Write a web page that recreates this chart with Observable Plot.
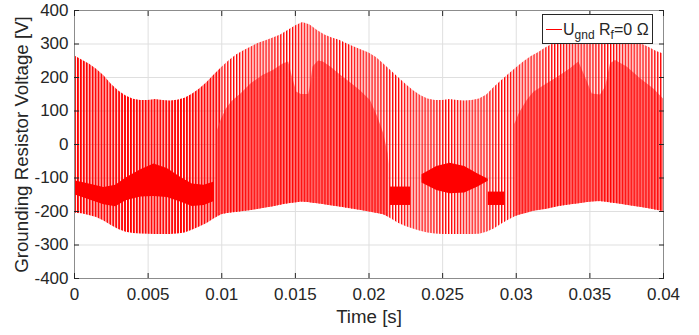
<!DOCTYPE html>
<html><head><meta charset="utf-8">
<script src="https://cdn.jsdelivr.net/npm/d3@7"></script>
<script src="https://cdn.jsdelivr.net/npm/@observablehq/plot@0.6"></script>
<style>
html,body{margin:0;padding:0;background:#fff;}
#chart{width:699px;height:335px;overflow:hidden;}
</style></head><body><div id="chart"></div>
<script>
// ---- tick values ----
const xTicks = [0, 0.005, 0.01, 0.015, 0.02, 0.025, 0.03, 0.035, 0.04];
const yTicks = [-400, -300, -200, -100, 0, 100, 200, 300, 400];

// ---- envelope of the switching waveform ----
const envT = [0,0.0005,0.001,0.0015,0.002,0.0025,0.003,0.0035,0.004,0.0045,
  0.005,0.0055,0.006,0.0065,0.007,0.0075,0.008,0.0085,0.009,0.0095,
  0.01,0.0105,0.011,0.0115,0.012,0.0125,0.013,0.0135,0.014,0.0145,
  0.015,0.0155,0.016,0.0165,0.017,0.0175,0.018,0.0185,0.019,0.0195,
  0.02,0.0205,0.021,0.0215,0.022,0.0225,0.023,0.0235,0.024,0.0245,
  0.025,0.0255,0.026,0.0265,0.027,0.0275,0.028,0.0285,0.029,0.0295,
  0.03,0.0305,0.031,0.0315,0.032,0.0325,0.033,0.0335,0.034,0.0345,
  0.035,0.0355,0.036,0.0365,0.037,0.0375,0.038,0.0385,0.039,0.0395,0.04];
const envUpper = [265,252,240,225,205,180,160,145,135,131,
  131,134,131,130,132,138,150,166,185,208,
  230,250,267,280,291,302,310,318,327,340,
  354,364,357,340,327,318,311,301,291,282,
  273,260,240,220,200,180,161,146,136,131,
  131,134,131,130,131,136,148,170,190,210,
  228,246,262,274,288,300,310,318,327,340,
  354,364,357,340,327,318,310,300,290,278,270];
const envLower = [-205,-207,-212,-218,-228,-242,-254,-262,-266,-267,
  -268,-269,-269,-269,-267,-264,-256,-246,-236,-222,
  -210,-205,-203,-200,-197,-193,-189,-186,-181,-177,
  -174,-172,-174,-177,-180,-183,-186,-190,-194,-197,
  -201,-205,-210,-222,-235,-245,-252,-259,-264,-267,
  -269,-269,-269,-269,-269,-268,-262,-252,-238,-225,
  -214,-206,-200,-196,-192,-187,-184,-181,-178,-175,
  -172,-170,-172,-175,-177,-181,-185,-188,-192,-196,-200];

// ---- dense (intermediate level) regions ----
const dense1T   = [0.0097,0.00995,0.0103,0.0107,0.0113,0.012,0.0128,0.0135,0.0142,0.01455,0.0148,0.0151,0.0154,0.0159,0.016,0.0162,0.01657,0.0169,0.0174,0.0181,0.0187,0.0194,0.0201,0.0206,0.021,0.0213,0.02135];
const dense1Top = [40,72,105,128,151,181,206,221,241,246,201,156,149,149,167,231,249,246,231,206,186,161,131,81,32,-28,-60];
const dense1Bot = [-214,-210,-206,-204,-201,-197,-191,-186,-179,-177,-175,-174,-172,-173,-174,-175,-177,-179,-183,-187,-191,-196,-202,-206,-210,-216,-218];

const dense2T   = [0.0299,0.0302,0.03074,0.0312,0.0321,0.033,0.03368,0.03425,0.0347,0.03516,0.03572,0.03606,0.0364,0.03674,0.03753,0.03844,0.03934,0.04];
const dense2Top = [60,92,131,156,181,206,226,246,201,151,148,171,241,251,231,196,166,136];
const dense2Bot = [-216,-211,-205,-199,-193,-184,-180,-177,-174,-172,-170,-172,-174,-176,-181,-187,-194,-200];

// ---- dark (overlapping) shapes ----
const crescT   = [0,0.001,0.002,0.0028,0.0035,0.0045,0.0054,0.0063,0.0072,0.008,0.0088,0.0095];
const crescTop = [-108,-118,-128,-122,-100,-75,-58,-72,-98,-118,-122,-112];
const crescBot = [-150,-165,-180,-186,-168,-157,-155,-158,-172,-185,-182,-170];

const bulgeT   = [0.0236,0.0246,0.0255,0.0265,0.0274,0.0281];
const bulgeTop = [-90,-66,-56,-66,-88,-104];
const bulgeBot = [-115,-137,-147,-145,-127,-110];

const blockAT = [0.02146,0.02282], blockATop = [-127,-127], blockABot = [-182,-182];
const blockBT = [0.0281,0.0292],   blockBTop = [-142,-142], blockBBot = [-182,-182];

// ---- build tables ----
const rows = (T, lo, hi) => T.map((t, i) => ({t, lo: lo[i], hi: hi[i]}));
const env = rows(envT, envLower, envUpper);
const envA = env.filter(d => d.t <= 0.01);
const envB = env.filter(d => d.t >= 0.01);

const W = 699, H = 335, ML = 74, MR = 36, MT = 10, MB = 57;
const font = "'Liberation Sans', Arial, Helvetica, sans-serif";
const axisColor = "#262626";
const red = "#ff0000";

const area = (data, fill) => Plot.areaY(data, {x: "t", y1: "lo", y2: "hi", fill, curve: "linear"});

const chart = Plot.plot({
  width: W, height: H,
  marginLeft: ML, marginRight: MR, marginTop: MT, marginBottom: MB,
  style: {fontFamily: font, background: "#ffffff", color: axisColor, overflow: "visible"},
  x: {domain: [0, 0.04]},
  y: {domain: [-400, 400]},
  marks: [
    Plot.gridX(xTicks, {stroke: "#dfdfdf", strokeOpacity: 1}),
    Plot.gridY(yTicks, {stroke: "#dfdfdf", strokeOpacity: 1}),
    area(envA, "url(#thick)"),
    area(envB, "url(#thin)"),
    area(rows(dense1T, dense1Bot, dense1Top), "url(#dense)"),
    area(rows(dense2T, dense2Bot, dense2Top), "url(#dense)"),
    area(rows(crescT, crescBot, crescTop), red),
    area(rows(bulgeT, bulgeBot, bulgeTop), red),
    area(rows(blockAT, blockABot, blockATop), red),
    area(rows(blockBT, blockBBot, blockBTop), red),
    Plot.frame({stroke: "#8c8c8c"}),
    // inward ticks on all four sides
    Plot.axisX({ticks: xTicks, anchor: "bottom", tickSize: 5, dy: -5, text: null, label: null, stroke: axisColor}),
    Plot.axisX({ticks: xTicks, anchor: "top", tickSize: 5, dy: 5, text: null, label: null, stroke: axisColor}),
    Plot.axisY({ticks: yTicks, anchor: "left", tickSize: 5, dx: 5, text: null, label: null, stroke: axisColor}),
    Plot.axisY({ticks: yTicks, anchor: "right", tickSize: 5, dx: -5, text: null, label: null, stroke: axisColor}),
    // tick labels
    Plot.axisX({ticks: xTicks, anchor: "bottom", tickSize: 0, tickPadding: 9, tickFormat: d => String(d), fontSize: 17, label: null, fill: axisColor}),
    Plot.axisY({ticks: yTicks, anchor: "left", tickSize: 0, tickPadding: 6, tickFormat: d => String(d), fontSize: 17, label: null, fill: axisColor}),
    // axis titles
    Plot.text(["Time [s]"], {text: d => d, frameAnchor: "bottom", textAnchor: "middle", lineAnchor: "top", dy: 31, fontSize: 18.7, fill: axisColor}),
    Plot.text(["Grounding Resistor Voltage [V]"], {text: d => d, frameAnchor: "left", textAnchor: "middle", lineAnchor: "middle", rotate: -90, dx: -52, fontSize: 18.7, fill: axisColor})
  ]
});

// stripe patterns (texture of the 5 kHz switching lines)
const P = (W - ML - MR) / 200;
const defs = d3.select(chart).insert("defs", ":first-child");
function stripes(id, bg, w) {
  const p = defs.append("pattern").attr("id", id).attr("patternUnits", "userSpaceOnUse")
    .attr("x", ML).attr("y", 0).attr("width", P).attr("height", H);
  if (bg) p.append("rect").attr("width", P).attr("height", H).attr("fill", bg);
  p.append("rect").attr("width", w).attr("height", H).attr("fill", red);
}
stripes("thick", null, 1.9);
stripes("thin", null, 1.4);
stripes("dense", "#ff8080", 1.4);

// legend box (inside the axes, top-right)
const lg = d3.select(chart).append("g").attr("font-family", font).attr("text-anchor", "start");
lg.append("rect").attr("x", 542.5).attr("y", 14.5).attr("width", 110).attr("height", 29)
  .attr("fill", "#fff").attr("stroke", axisColor).attr("stroke-width", 1);
lg.append("line").attr("x1", 546).attr("x2", 562).attr("y1", 29.5).attr("y2", 29.5)
  .attr("stroke", red).attr("stroke-width", 1);
const tx = lg.append("text").attr("x", 563).attr("y", 35).attr("font-size", 16).attr("fill", axisColor)
  .attr("text-anchor", "start");
tx.append("tspan").text("U");
tx.append("tspan").attr("font-size", 12).attr("dy", 4).text("gnd");
tx.append("tspan").attr("dy", -4).text("\u00a0R");
tx.append("tspan").attr("font-size", 12).attr("dy", 4).text("f");
tx.append("tspan").attr("dy", -4).text("=0 \u03a9");

document.getElementById("chart").appendChild(chart);
</script>
</body></html>
